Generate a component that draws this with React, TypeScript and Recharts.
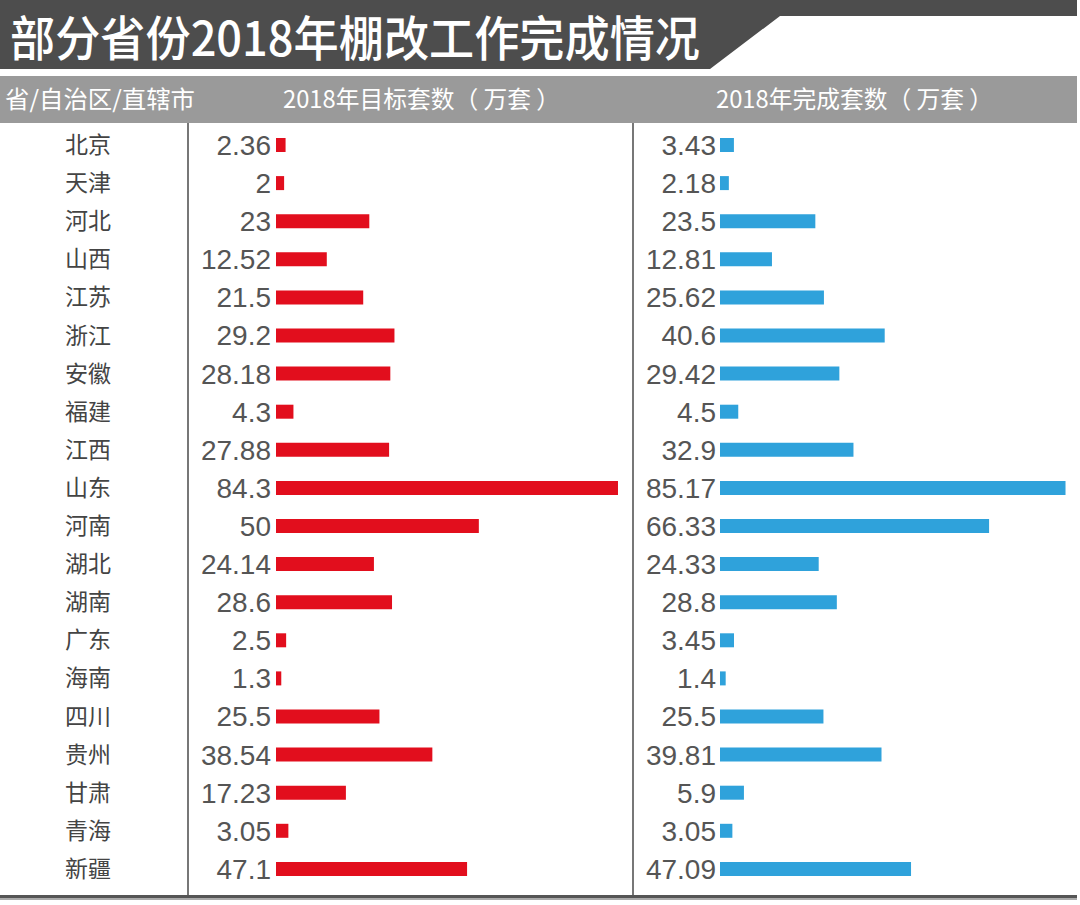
import React from 'react';
import { BarChart, Bar, XAxis, YAxis, LabelList } from 'recharts';

const provinces = ['北京', '天津', '河北', '山西', '江苏', '浙江', '安徽', '福建', '江西', '山东', '河南', '湖北', '湖南', '广东', '海南', '四川', '贵州', '甘肃', '青海', '新疆'];
const targetValues = [2.36, 2, 23, 12.52, 21.5, 29.2, 28.18, 4.3, 27.88, 84.3, 50, 24.14, 28.6, 2.5, 1.3, 25.5, 38.54, 17.23, 3.05, 47.1];
const completedValues = [3.43, 2.18, 23.5, 12.81, 25.62, 40.6, 29.42, 4.5, 32.9, 85.17, 66.33, 24.33, 28.8, 3.45, 1.4, 25.5, 39.81, 5.9, 3.05, 47.09];
const titleText = '部分省份2018年棚改工作完成情况';
const headerLabels = ['省/自治区/直辖市', '2018年目标套数（ 万套 ）', '2018年完成套数（ 万套 ）'];

const data = provinces.map((name, i) => ({ name, target: targetValues[i], done: completedValues[i] }));

const CJK = '"Noto Sans CJK SC", "Noto Sans", sans-serif';
const NUM = '"Liberation Sans", Arial, sans-serif';
const RED = '#e20e1d';
const BLUE = '#2fa2db';
const DOMAIN: [number, number] = [0, 88];

const ProvinceTick = (props: any) => {
  const { y, payload } = props;
  return (
    <text x={88} y={y} dy={8} textAnchor="middle" fontSize={23} fill="#444" fontFamily={CJK}>
      {payload.value}
    </text>
  );
};

export default function App() {
  const chartTop = 126;
  const chartH = 762;
  return (
    <div style={{ position: 'absolute', left: 0, top: 0, width: 1080, height: 905, background: '#fff', overflow: 'hidden' }}>
      <svg width={1080} height={125} style={{ position: 'absolute', left: 0, top: 0 }}>
        <polygon points="0,0 1077,0 1077,16 780,16 710,69 0,69" fill="#4d4d4d" />
        <text x={10} y={56} fontSize={48} fill="#fff" fontFamily={CJK} fontWeight={500} textLength={690} lengthAdjust="spacingAndGlyphs">{titleText}</text>
        <rect x={0} y={76} width={1077} height={47} fill="#9a9a9a" />
        <text x={5} y={108} fontSize={24} fill="#fff" fontFamily={CJK} textLength={190} lengthAdjust="spacingAndGlyphs">{headerLabels[0]}</text>
        <text x={283} y={108} fontSize={24} fill="#fff" fontFamily={CJK} textLength={277} lengthAdjust="spacingAndGlyphs">{headerLabels[1]}</text>
        <text x={716} y={108} fontSize={24} fill="#fff" fontFamily={CJK} textLength={277} lengthAdjust="spacingAndGlyphs">{headerLabels[2]}</text>
      </svg>
      <div style={{ position: 'absolute', left: 187, top: 123, width: 2, height: 772, background: '#777' }} />
      <div style={{ position: 'absolute', left: 632, top: 123, width: 2, height: 772, background: '#777' }} />
      <div style={{ position: 'absolute', left: 0, top: 895, width: 1077, height: 3, background: '#555' }} />
      <div style={{ position: 'absolute', left: 0, top: 898, width: 1077, height: 2, background: '#aaa' }} />

      <div style={{ position: 'absolute', left: 0, top: chartTop }}>
        <BarChart width={633} height={chartH} data={data} layout="vertical" margin={{ top: 0, right: 0, bottom: 0, left: 0 }}>
          <XAxis type="number" domain={DOMAIN} hide />
          <YAxis type="category" dataKey="name" width={276} axisLine={false} tickLine={false} tick={<ProvinceTick />} interval={0} />
          <Bar dataKey="target" fill={RED} barSize={14} isAnimationActive={false}>
            <LabelList dataKey="target" position="left" offset={5} fontSize={28} fill="#555" fontFamily={NUM} />
          </Bar>
        </BarChart>
      </div>
      <div style={{ position: 'absolute', left: 633, top: chartTop }}>
        <BarChart width={447} height={chartH} data={data} layout="vertical" margin={{ top: 0, right: 3, bottom: 0, left: 87 }}>
          <XAxis type="number" domain={DOMAIN} hide />
          <YAxis type="category" dataKey="name" hide />
          <Bar dataKey="done" fill={BLUE} barSize={14} isAnimationActive={false}>
            <LabelList dataKey="done" position="left" offset={4} fontSize={28} fill="#555" fontFamily={NUM} />
          </Bar>
        </BarChart>
      </div>
    </div>
  );
}
